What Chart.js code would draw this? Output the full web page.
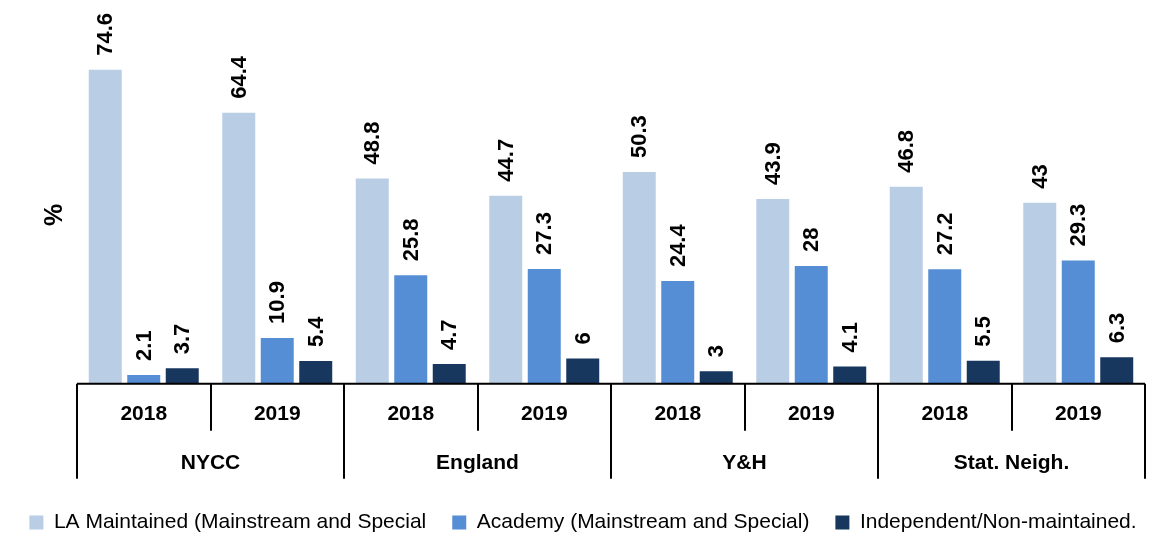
<!DOCTYPE html>
<html lang="en">
<head>
  <meta charset="UTF-8">
  <title>School type by area</title>
  <script src="https://cdn.jsdelivr.net/npm/chart.js"></script>
  <style>
    body { margin: 0; background: #fff; }
    #wrap { width: 1166px; height: 536px; }
  </style>
</head>
<body>
  <div id="wrap"><canvas id="schoolChart"></canvas></div>
  <script>
    // data
    const groups = ['NYCC', 'England', 'Y&H', 'Stat. Neigh.'];
    const years = ['2018', '2019'];
    const laMaintained = [74.6, 64.4, 48.8, 44.7, 50.3, 43.9, 46.8, 43];
    const academy = [2.1, 10.9, 25.8, 27.3, 24.4, 28, 27.2, 29.3];
    const independent = [3.7, 5.4, 4.7, 6, 3, 4.1, 5.5, 6.3];

    const labels = [];
    groups.forEach(g => years.forEach(y => labels.push(g + ' ' + y)));

    const boldFont = '"Liberation Sans", Arial, sans-serif';

    // value labels, rotated
    const valueLabels = {
      id: 'valueLabels',
      afterDatasetsDraw(chart) {
        const ctx = chart.ctx;
        ctx.save();
        ctx.font = 'bold 22px ' + boldFont;
        ctx.fillStyle = '#000';
        ctx.textAlign = 'left';
        ctx.textBaseline = 'middle';
        chart.data.datasets.forEach((ds, i) => {
          chart.getDatasetMeta(i).data.forEach((bar, j) => {
            ctx.save();
            ctx.translate(bar.x + 1, bar.y - 14);
            ctx.rotate(-Math.PI / 2);
            ctx.fillText(String(ds.data[j]), 0, 0);
            ctx.restore();
          });
        });
        ctx.restore();
      }
    };

    // two-level category axis + "%" title
    const groupAxis = {
      id: 'groupAxis',
      afterDraw(chart) {
        const ctx = chart.ctx;
        const x = chart.scales.x;
        const area = chart.chartArea;
        const base = area.bottom;
        const step = (area.right - area.left) / labels.length;
        ctx.save();
        ctx.strokeStyle = '#000';
        ctx.lineWidth = 2;
        ctx.beginPath();
        ctx.moveTo(area.left, base);
        ctx.lineTo(area.right, base);
        for (let i = 0; i <= labels.length; i++) {
          const px = Math.round(x.getPixelForValue(Math.min(i, labels.length - 1)) + (i === labels.length ? step / 2 : -step / 2));
          ctx.moveTo(px, base);
          ctx.lineTo(px, i % 2 === 0 ? base + 95 : base + 47);
        }
        ctx.stroke();

        ctx.fillStyle = '#000';
        ctx.textAlign = 'center';
        ctx.textBaseline = 'middle';
        ctx.font = 'bold 21px ' + boldFont;
        labels.forEach((l, i) => {
          ctx.fillText(years[i % 2], x.getPixelForValue(i), base + 30);
        });
        groups.forEach((g, k) => {
          const cx = (x.getPixelForValue(k * 2) + x.getPixelForValue(k * 2 + 1)) / 2;
          ctx.fillText(g, cx, base + 79);
        });

        ctx.translate(55, 215);
        ctx.rotate(-Math.PI / 2);
        ctx.font = 'bold 25px ' + boldFont;
        ctx.fillText('%', 0, 0);
        ctx.restore();
      }
    };

    new Chart(document.getElementById('schoolChart'), {
      type: 'bar',
      data: {
        labels: labels,
        datasets: [
          { label: 'LA Maintained (Mainstream and Special', data: laMaintained, backgroundColor: '#B9CDE5' },
          { label: 'Academy (Mainstream and Special)', data: academy, backgroundColor: '#558ED5' },
          { label: 'Independent/Non-maintained.', data: independent, backgroundColor: '#17375E' }
        ]
      },
      options: {
        responsive: true,
        maintainAspectRatio: false,
        animation: false,
        categoryPercentage: 0.865,
        barPercentage: 0.857,
        layout: { padding: { top: 5, right: 0, left: 0, bottom: -7 } },
        scales: {
          x: {
            grid: { display: false },
            border: { display: false },
            ticks: { display: false },
            afterFit(scale) { scale.height = 95; }
          },
          y: {
            min: 0,
            max: 90,
            grid: { display: false },
            border: { display: false },
            ticks: { display: false },
            afterFit(scale) { scale.width = 77; }
          },
          yRight: {
            position: 'right',
            grid: { display: false },
            border: { display: false },
            ticks: { display: false },
            afterFit(scale) { scale.width = 21; }
          }
        },
        plugins: {
          legend: {
            position: 'bottom',
            title: { display: true, text: ' ', font: { size: 1 }, padding: { top: 6, bottom: 0 } },
            labels: {
              color: '#000',
              boxWidth: 14,
              boxHeight: 14,
              padding: 26,
              font: { family: '"Liberation Sans", Arial, sans-serif', size: 21 }
            }
          },
          tooltip: { enabled: false }
        }
      },
      plugins: [valueLabels, groupAxis]
    });
  </script>
</body>
</html>
